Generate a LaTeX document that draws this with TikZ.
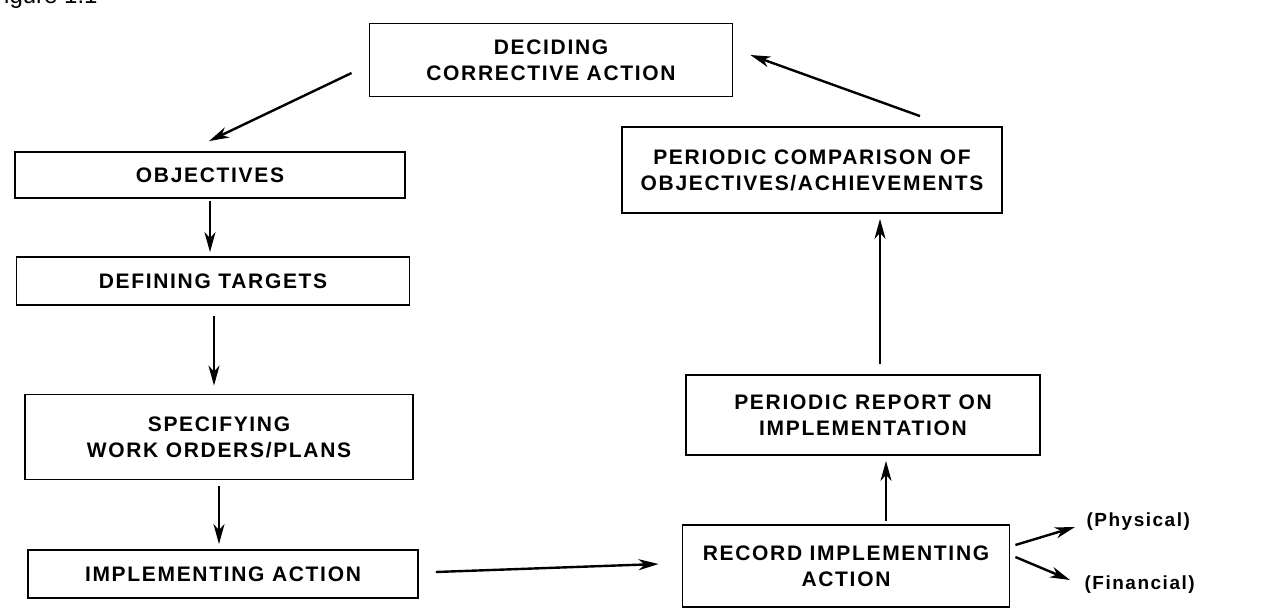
\documentclass[tikz,border=0pt]{standalone}
\usepackage{fontspec}
\setmainfont{Liberation Sans}
\newfontfamily\spacedfam[LetterSpace=8]{Liberation Sans}
\usetikzlibrary{arrows.meta}

\newcommand\boxtext{\spacedfam\bfseries\fontsize{21}{26}\selectfont}
\newcommand\sidetext{\spacedfam\bfseries\fontsize{19}{22}\selectfont}

\tikzset{
  stagebox/.style={draw, line width=1.8pt, align=center, inner sep=0pt, font=\boxtext},
  flow/.style={line width=2.4pt, -{Stealth[length=20pt, width=11pt, inset=6pt]}},
}

\begin{document}
\begin{tikzpicture}[x=1pt, y=-1pt]
  \useasboundingbox (0,0) rectangle (1267,609);
  \node[anchor=base west, font=\fontsize{24}{28}\selectfont] (caption) at (-14,4) {Figure 1.1};

  % left column: plan side
  \node[stagebox, minimum width=363pt, minimum height=73pt] (decide) at (551,60) {DECIDING\\CORRECTIVE ACTION};
  \node[stagebox, minimum width=390pt, minimum height=46pt] (obj) at (210,175) {OBJECTIVES};
  \node[stagebox, minimum width=393pt, minimum height=48pt] (targets) at (213,281) {DEFINING TARGETS};
  \node[stagebox, minimum width=388pt, minimum height=85pt] (spec) at (219,437) {SPECIFYING\\WORK ORDERS/PLANS};
  \node[stagebox, minimum width=390pt, minimum height=48pt] (impl) at (223,574) {IMPLEMENTING ACTION};

  % right column: control side
  \node[stagebox, minimum width=380pt, minimum height=86pt] (compare) at (812,170) {PERIODIC COMPARISON OF\\OBJECTIVES/ACHIEVEMENTS};
  \node[stagebox, minimum width=354pt, minimum height=80pt] (report) at (863,415) {PERIODIC REPORT ON\\IMPLEMENTATION};
  \node[stagebox, minimum width=327pt, minimum height=82pt] (record) at (846,566) {RECORD IMPLEMENTING\\ACTION};
  \node[anchor=west, font=\sidetext] (phys) at (1083,522) {(Physical)};
  \node[anchor=west, font=\sidetext] (fin) at (1081,585) {(Financial)};

  \draw[flow] ([xshift=-17pt,yshift=-13pt]decide.west) -- ([xshift=-1pt,yshift=10pt]obj.north);
  \draw[flow, shorten <=2pt, shorten >=4pt] (obj.south) -- (obj.south |- targets.north);
  \draw[flow, shorten <=10pt, shorten >=8pt] ([xshift=1pt]targets.south) -- ([xshift=1pt]targets.south |- spec.north);
  \draw[flow, shorten <=6pt, shorten >=5pt] (spec.south) -- (spec.south |- impl.north);
  \draw[flow] ([xshift=17pt,yshift=2pt]impl.east) -- ([xshift=-23pt,yshift=2pt]record.west);
  \draw[flow] ([xshift=40pt,yshift=3pt]record.north) -- ([xshift=23pt,yshift=-5pt]report.south);
  \draw[flow] ([xshift=17pt,yshift=10pt]report.north) -- ([xshift=68pt,yshift=-5pt]compare.south);
  \draw[flow] ([xshift=108pt,yshift=10pt]compare.north) -- ([xshift=17pt,yshift=5pt]decide.east);
  \draw[flow] ([xshift=5pt,yshift=21pt]record.east) -- ([xshift=-8pt,yshift=-5pt]phys.west);
  \draw[flow] ([xshift=5pt,yshift=9pt]record.east) -- ([xshift=-11pt,yshift=5pt]fin.west);
\end{tikzpicture}
\end{document}
